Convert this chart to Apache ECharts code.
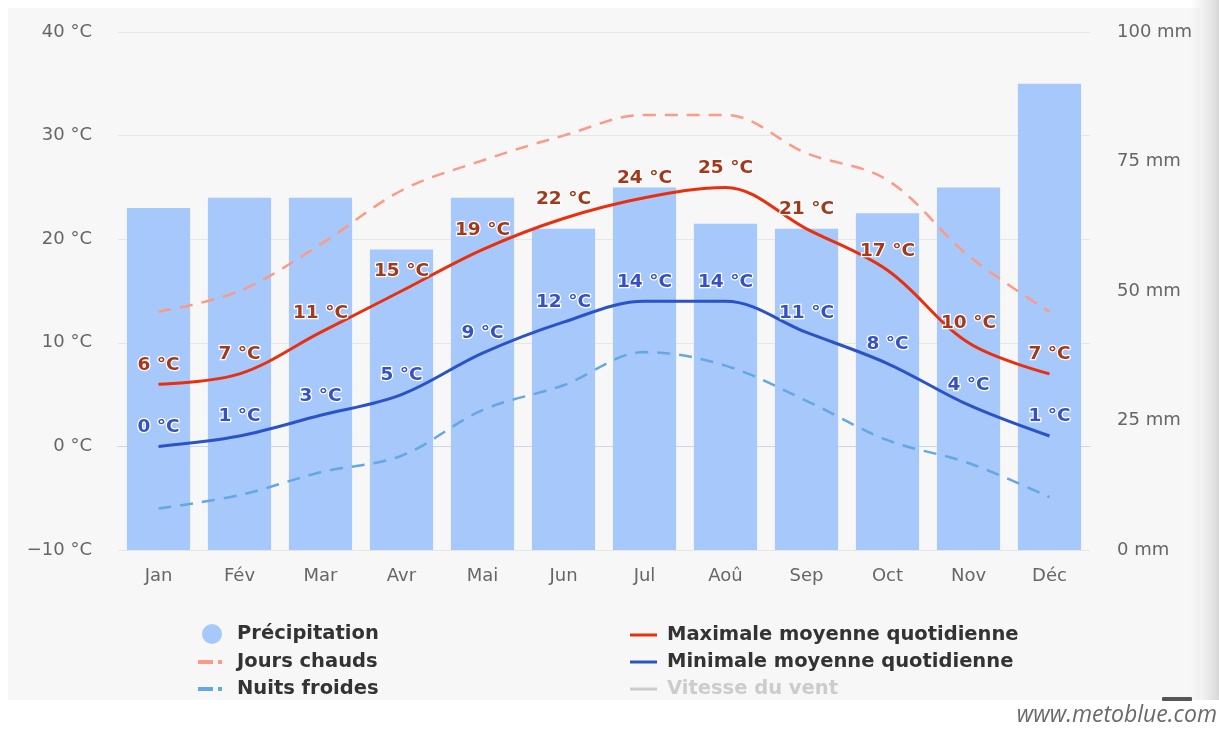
<!DOCTYPE html>
<html>
<head>
<meta charset="utf-8">
<style>
  html, body { margin: 0; padding: 0; background: #fff; }
  #chart { width: 1219px; height: 731px; }
</style>
<script src="https://cdn.jsdelivr.net/npm/echarts@6/dist/echarts.min.js"></script>
</head>
<body>
<div id="chart"></div>
<script>
// Climat moyen : précipitations (barres) et températures (courbes)
const months = ['Jan', 'Fév', 'Mar', 'Avr', 'Mai', 'Jun', 'Jul', 'Aoû', 'Sep', 'Oct', 'Nov', 'Déc']
// précipitation en mm
const precipitation = [66, 68, 68, 58, 68, 62, 70, 63, 62, 65, 70, 90]
// températures en °C
const maxTemp = [6, 7, 11, 15, 19, 22, 24, 25, 21, 17, 10, 7]
const minTemp = [0, 1, 3, 5, 9, 12, 14, 14, 11, 8, 4, 1]
const hotDays = [13, 15, 19.5, 24.7, 27.6, 30, 32, 32, 28.3, 25.7, 18.4, 13]
const coldNights = [-6, -4.7, -2.5, -0.9, 3.5, 5.9, 9.1, 7.8, 4.4, 0.6, -1.6, -4.9]
const windSpeed = []

const font = "'DejaVu Sans', 'Noto Sans', sans-serif"
const legendText = (pad) => ({
  fontSize: 19.5, fontWeight: 'bold', color: '#333', fontFamily: font, padding: [0, 0, 0, pad],
})
// icône « tiret + point » des séries en pointillé
const dashIcon = 'path://M0,0H15V4H0Z M20,0H24V4H20Z'

const chart = echarts.init(document.getElementById('chart'))

const dataLabel = (color) => ({
  show: true,
  position: 'top',
  distance: 10,
  formatter: '{c} °C',
  color,
  fontSize: 18.5,
  fontWeight: 'bold',
  fontFamily: font,
  textBorderColor: '#fff',
  textBorderWidth: 2.5,
})

chart.setOption({
  animation: false,
  textStyle: { fontFamily: font },
  graphic: [
    // fond gris du graphique
    { type: 'rect', z: -10, shape: { x: 8, y: 8, width: 1192, height: 692 }, style: { fill: '#f7f7f7' } },
    // ombre sur le bord droit
    {
      type: 'rect', z: -9, shape: { x: 1190, y: 0, width: 29, height: 700 },
      style: {
        fill: new echarts.graphic.LinearGradient(0, 0, 1, 0, [
          { offset: 0, color: 'rgba(230,230,230,0)' },
          { offset: 1, color: 'rgba(215,215,215,1)' },
        ]),
      },
    },
    { type: 'rect', z: 5, shape: { x: 1162, y: 697, width: 30, height: 4, r: 1 }, style: { fill: '#555' } },
    {
      type: 'text', right: 2, top: 704,
      style: { text: 'www.metoblue.com', fill: '#6a6a6a', fontSize: 23, fontStyle: 'italic', fontFamily: "'Open Sans', sans-serif" },
    },
  ],
  grid: { left: 118, right: 129, top: 32, bottom: 181 },
  legend: [
    {
      data: [{ name: 'Précipitation', icon: 'circle' }],
      left: 202,
      top: 624,
      padding: 0,
      itemWidth: 20,
      itemHeight: 20,
      selectedMode: false,
      textStyle: legendText(10),
    },
    {
      data: [
        { name: 'Jours chauds', icon: dashIcon },
        { name: 'Nuits froides', icon: dashIcon },
      ],
      orient: 'vertical',
      left: 198,
      top: 652,
      padding: 0,
      itemGap: 7,
      itemWidth: 24,
      itemHeight: 4,
      selectedMode: false,
      textStyle: legendText(10),
    },
    {
      data: ['Maximale moyenne quotidienne', 'Minimale moyenne quotidienne', 'Vitesse du vent'],
      orient: 'vertical',
      icon: 'rect',
      left: 630,
      top: 625,
      padding: 0,
      itemGap: 7,
      itemWidth: 27,
      itemHeight: 3,
      inactiveColor: '#ccc',
      selected: { 'Vitesse du vent': false },
      textStyle: legendText(5),
    },
  ],
  xAxis: {
    type: 'category',
    data: months,
    axisLine: { lineStyle: { color: '#ccd6eb' } },
    axisTick: { show: false },
    axisLabel: { color: '#666', fontSize: 18, margin: 17, fontFamily: font },
  },
  yAxis: [
    {
      type: 'value',
      min: -10,
      max: 40,
      interval: 10,
      axisLine: { show: false },
      axisTick: { show: false },
      splitLine: { lineStyle: { color: '#e6e6e6', width: 1 } },
      axisLabel: {
        color: '#666', fontSize: 18, margin: 26, fontFamily: font,
        formatter: (v) => (v < 0 ? '−' + Math.abs(v) : v) + ' °C',
      },
    },
    {
      type: 'value',
      min: 0,
      max: 100,
      interval: 25,
      axisLine: { show: false },
      axisTick: { show: false },
      splitLine: { show: false },
      axisLabel: { color: '#666', fontSize: 18, margin: 27, fontFamily: font, formatter: '{value} mm' },
    },
  ],
  series: [
    {
      name: 'Précipitation',
      type: 'bar',
      yAxisIndex: 1,
      data: precipitation,
      barWidth: '78%',
      itemStyle: { color: '#a6c8fb' },
      z: 1,
    },
    {
      name: 'Jours chauds',
      type: 'line',
      data: hotDays,
      smooth: 0.35,
      symbol: 'none',
      lineStyle: { color: '#fb9a87', width: 2.5, type: [13, 9] },
      itemStyle: { color: '#fb9a87' },
      z: 3,
    },
    {
      name: 'Nuits froides',
      type: 'line',
      data: coldNights,
      smooth: 0.35,
      symbol: 'none',
      lineStyle: { color: '#64a7e2', width: 2.5, type: [13, 9] },
      itemStyle: { color: '#64a7e2' },
      z: 3,
    },
    {
      name: 'Maximale moyenne quotidienne',
      type: 'line',
      data: maxTemp,
      smooth: 0.35,
      symbol: 'circle',
      symbolSize: 0,
      lineStyle: { color: '#e8300e', width: 3 },
      itemStyle: { color: '#e8300e' },
      label: dataLabel('#a3391b'),
      z: 4,
    },
    {
      name: 'Minimale moyenne quotidienne',
      type: 'line',
      data: minTemp,
      smooth: 0.35,
      symbol: 'circle',
      symbolSize: 0,
      lineStyle: { color: '#2a52c9', width: 3 },
      itemStyle: { color: '#2a52c9' },
      label: dataLabel('#3650c5'),
      z: 4,
    },
    {
      name: 'Vitesse du vent',
      type: 'line',
      data: windSpeed,
      symbol: 'none',
      lineStyle: { color: '#999', width: 3 },
      itemStyle: { color: '#999' },
    },
  ],
})
</script>
</body>
</html>
